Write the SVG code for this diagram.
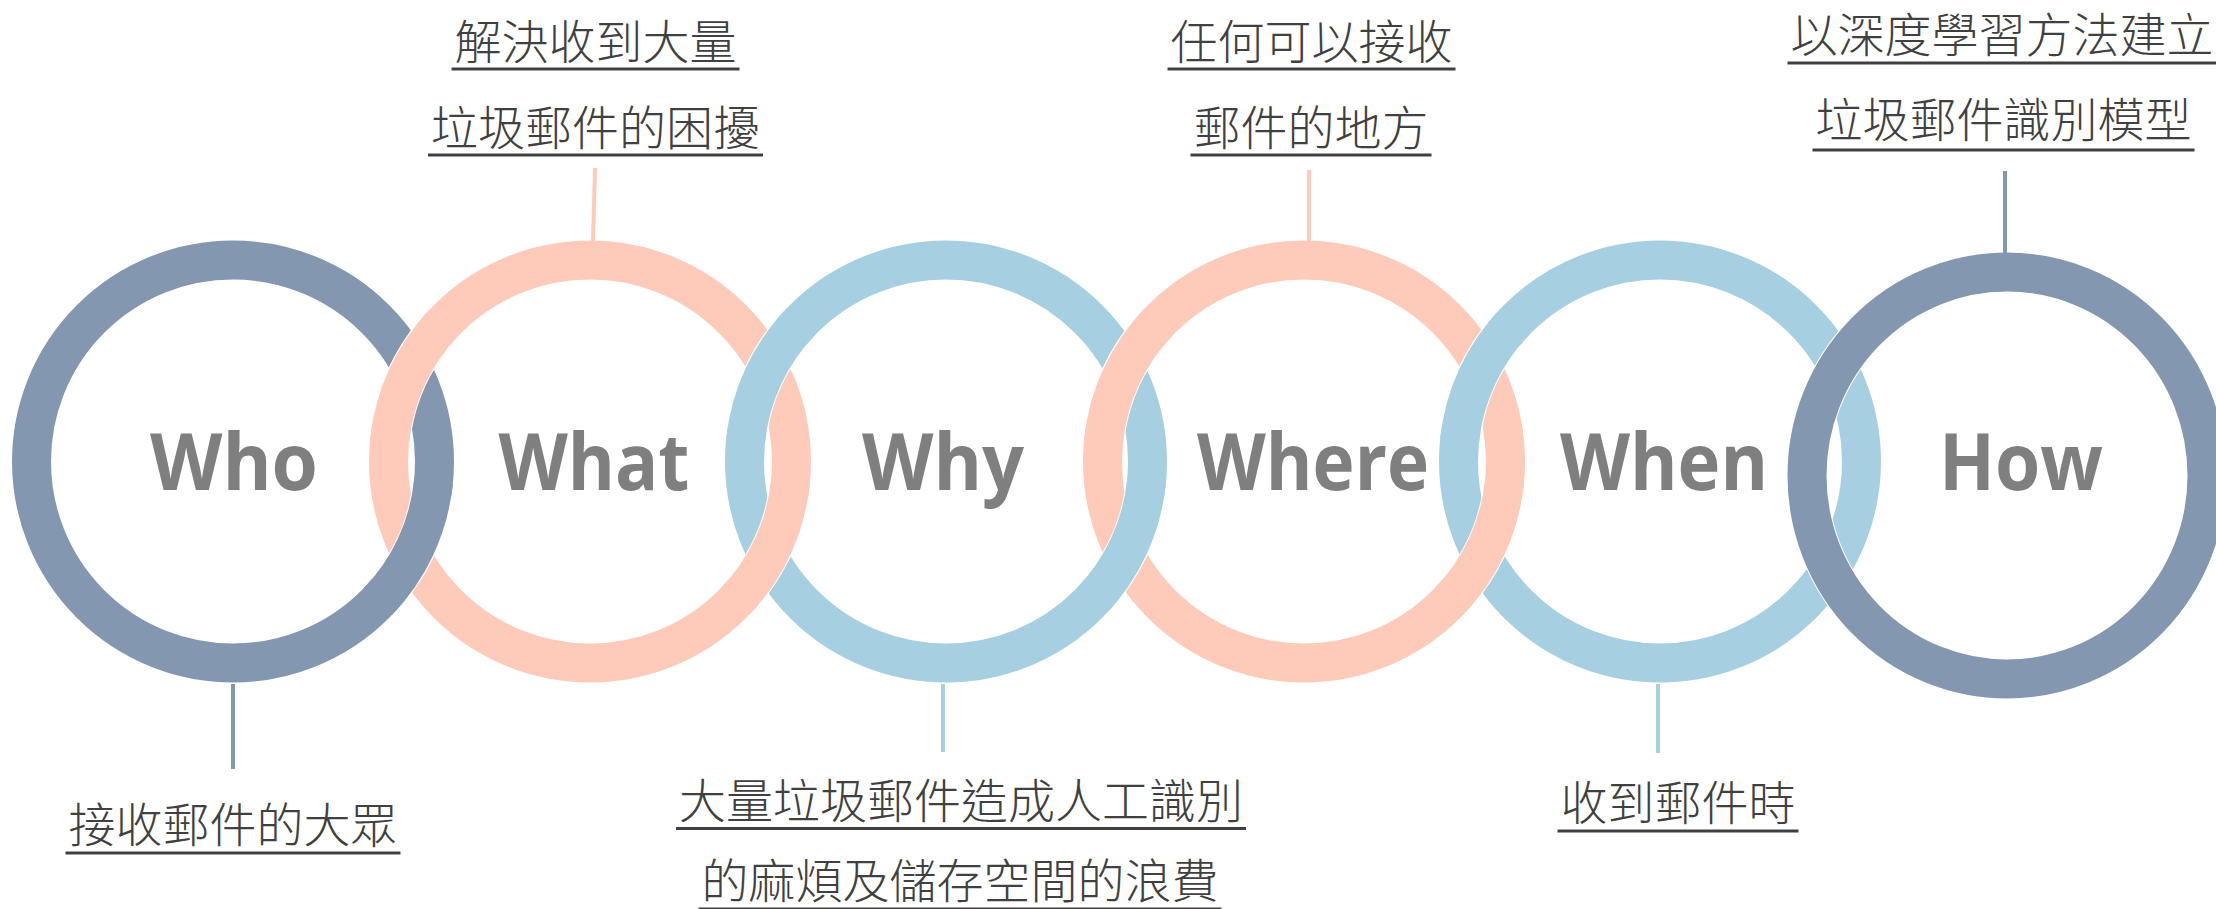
<svg xmlns="http://www.w3.org/2000/svg" width="2216" height="909" viewBox="0 0 2216 909">
<defs>
<style>
.ring{fill:none;stroke-width:39}
.under{fill:none;stroke:#ffffff;stroke-width:41}
.slate{stroke:#8497B0}
.peach{stroke:#FECBBA}
.sky{stroke:#A7CFE2}
.word{font-family:"Open Sans","Noto Sans",sans-serif;font-weight:700;font-size:79px;fill:#7F7F7F;text-anchor:middle}
.lbl{font-family:"Noto Sans CJK TC","Noto Sans CJK SC",sans-serif;font-weight:300;font-size:47px;fill:#404040;text-anchor:middle}
.ul{stroke:#404040;stroke-width:3}
.conn{stroke-width:4;fill:none}
</style>
</defs>
<rect width="2216" height="909" fill="#ffffff"/>
<g id="rings">
<circle id="ring-who" class="ring slate" cx="233" cy="461.5" r="201.5"/>
<circle id="ring-what" class="ring peach" cx="590" cy="461.5" r="201.5"/>
<circle id="ring-why" class="ring sky" cx="946" cy="461.5" r="201.5"/>
<circle id="ring-where" class="ring peach" cx="1304" cy="461.5" r="201.5"/>
<circle id="ring-when" class="ring sky" cx="1660" cy="461.5" r="201.5"/>
</g>
<g id="interlock">
<path class="under" d="M390.98 429.98 A201.5 201.5 0 0 1 435.64 331.98"/>
<path class="ring peach" d="M389.60 440.44 A201.5 201.5 0 0 1 445.05 321.53"/>
<path class="under" d="M746.98 429.98 A201.5 201.5 0 0 1 791.64 331.98"/>
<path class="ring sky" d="M745.60 440.44 A201.5 201.5 0 0 1 801.05 321.53"/>
<path class="under" d="M1104.98 429.98 A201.5 201.5 0 0 1 1149.64 331.98"/>
<path class="ring peach" d="M1103.60 440.44 A201.5 201.5 0 0 1 1159.05 321.53"/>
<path class="under" d="M1460.98 429.98 A201.5 201.5 0 0 1 1505.64 331.98"/>
<path class="ring sky" d="M1459.60 440.44 A201.5 201.5 0 0 1 1515.05 321.53"/>
<path class="under" d="M432.02 493.02 A201.5 201.5 0 0 1 387.36 591.02"/>
<path class="ring slate" d="M433.40 482.56 A201.5 201.5 0 0 1 377.95 601.47"/>
<path class="under" d="M789.02 493.02 A201.5 201.5 0 0 1 744.36 591.02"/>
<path class="ring peach" d="M790.40 482.56 A201.5 201.5 0 0 1 734.95 601.47"/>
<path class="under" d="M1145.02 493.02 A201.5 201.5 0 0 1 1100.36 591.02"/>
<path class="ring sky" d="M1146.40 482.56 A201.5 201.5 0 0 1 1090.95 601.47"/>
<path class="under" d="M1503.02 493.02 A201.5 201.5 0 0 1 1458.36 591.02"/>
<path class="ring peach" d="M1504.40 482.56 A201.5 201.5 0 0 1 1448.95 601.47"/>
</g>
<g id="ring-how-group">
<ellipse class="under" cx="2007" cy="475.5" rx="200" ry="203.5"/>
<ellipse id="ring-how" class="ring slate" cx="2007" cy="475.5" rx="200" ry="203.5"/>
</g>
<g id="connectors">
<line class="conn slate" x1="233" y1="684" x2="233" y2="769"/>
<line class="conn peach" x1="595" y1="168" x2="593" y2="242"/>
<line class="conn sky" x1="943" y1="684" x2="943" y2="752"/>
<line class="conn peach" x1="1309" y1="170" x2="1309" y2="242"/>
<line class="conn sky" x1="1658" y1="684" x2="1658" y2="753"/>
<line class="conn slate" x1="2005" y1="171" x2="2005" y2="254"/>
</g>
<g id="node-who">
<text class="word" x="234" y="490" textLength="168" lengthAdjust="spacingAndGlyphs">Who</text>
<text class="lbl" x="233" y="842">接收郵件的大眾</text>
<line class="ul" x1="65.5" y1="853" x2="400.5" y2="853"/>
</g>
<g id="node-what">
<text class="word" x="594" y="490" textLength="191" lengthAdjust="spacingAndGlyphs">What</text>
<text class="lbl" x="595.5" y="59">解決收到大量</text>
<line class="ul" x1="451.5" y1="69" x2="739.5" y2="69"/>
<text class="lbl" x="595.5" y="145">垃圾郵件的困擾</text>
<line class="ul" x1="428" y1="155" x2="763" y2="155"/>
</g>
<g id="node-why">
<text class="word" x="943" y="490" textLength="162" lengthAdjust="spacingAndGlyphs">Why</text>
<text class="lbl" x="961" y="818">大量垃圾郵件造成人工識別</text>
<line class="ul" x1="676" y1="828.5" x2="1246" y2="828.5"/>
<text class="lbl" x="960" y="898">的麻煩及儲存空間的浪費</text>
<line class="ul" x1="698.5" y1="909" x2="1221.5" y2="909"/>
</g>
<g id="node-where">
<text class="word" x="1313" y="490" textLength="232" lengthAdjust="spacingAndGlyphs">Where</text>
<text class="lbl" x="1311.5" y="59">任何可以接收</text>
<line class="ul" x1="1167.5" y1="69" x2="1455.5" y2="69"/>
<text class="lbl" x="1311" y="145">郵件的地方</text>
<line class="ul" x1="1190.5" y1="155" x2="1431.5" y2="155"/>
</g>
<g id="node-when">
<text class="word" x="1664" y="490" textLength="208" lengthAdjust="spacingAndGlyphs">When</text>
<text class="lbl" x="1678" y="820">收到郵件時</text>
<line class="ul" x1="1557.5" y1="831" x2="1798.5" y2="831"/>
</g>
<g id="node-how">
<text class="word" x="2021" y="490" textLength="164" lengthAdjust="spacingAndGlyphs">How</text>
<text class="lbl" x="2002" y="52">以深度學習方法建立</text>
<line class="ul" x1="1787.5" y1="63" x2="2216" y2="63"/>
<text class="lbl" x="2003.5" y="137">垃圾郵件識別模型</text>
<line class="ul" x1="1812.5" y1="150" x2="2194.5" y2="150"/>
</g>
</svg>
